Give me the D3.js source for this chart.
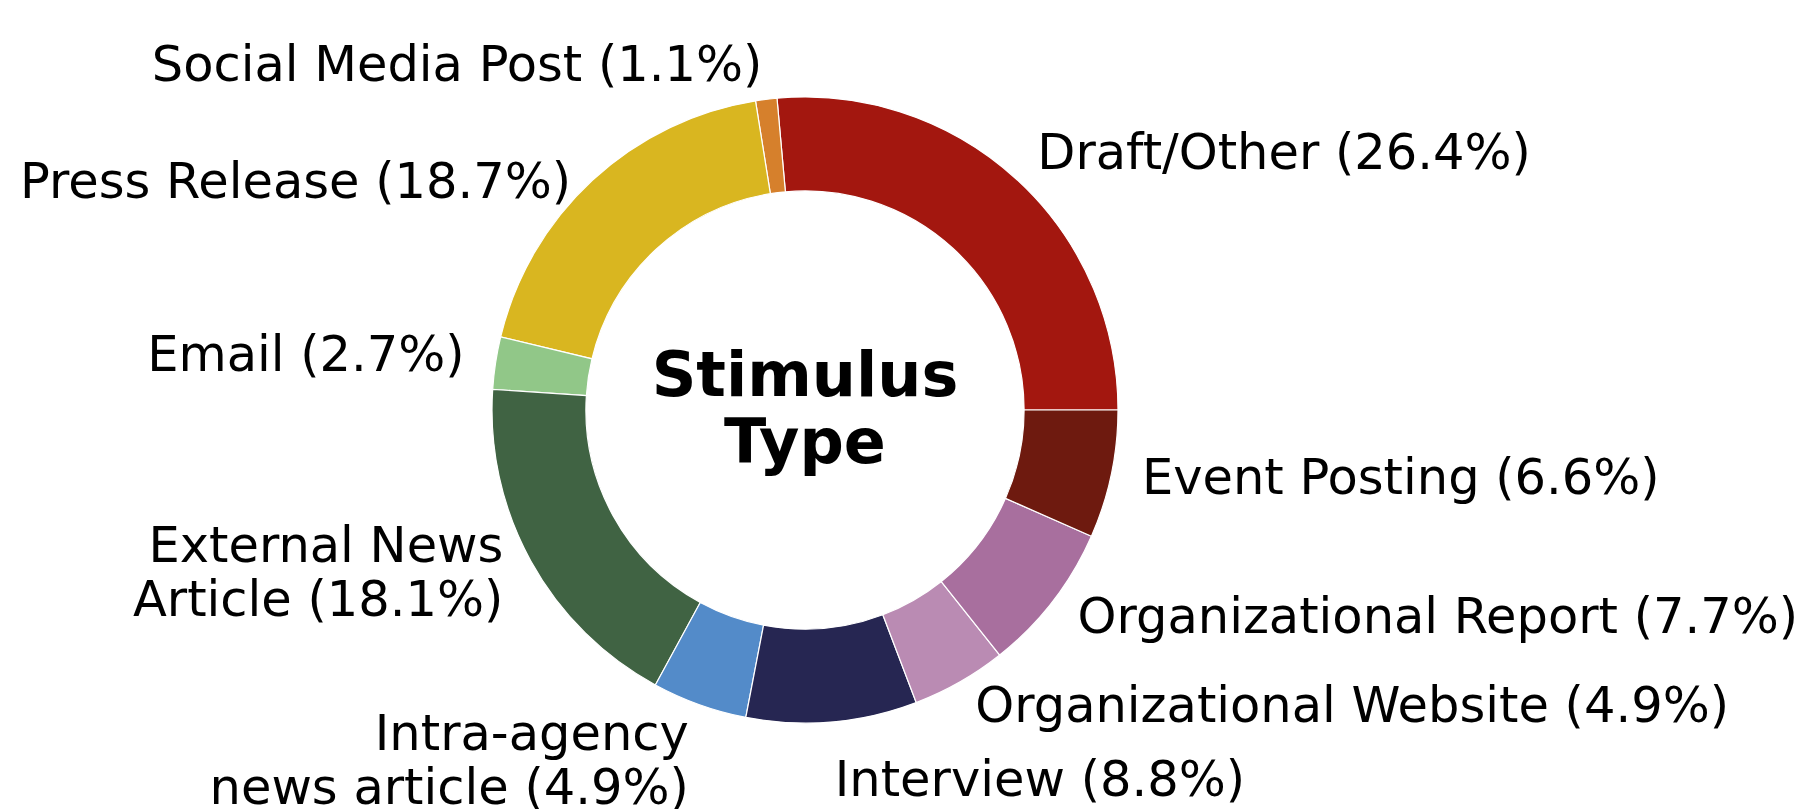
<!DOCTYPE html>
<html>
<head>
<meta charset="utf-8">
<script src="https://cdn.jsdelivr.net/npm/d3@7"></script>
<style>
  body { margin: 0; background: #fff; }
  text { font-family: "DejaVu Sans", sans-serif; fill: #000; }
</style>
</head>
<body>
<svg id="donut" width="1807" height="809"></svg>
<script>
// slices, counter-clockwise from 3 o'clock
var categories = ['Draft/Other', 'Social Media Post', 'Press Release', 'Email',
  'External News\nArticle', 'Intra-agency\nnews article', 'Interview',
  'Organizational Website', 'Organizational Report', 'Event Posting'];
var values = [26.4, 1.1, 18.7, 2.7, 18.1, 4.9, 8.8, 4.9, 7.7, 6.6];
var colors = ['#a3170f', '#d6802c', '#d9b620', '#91c788', '#406343',
  '#538bc9', '#262652', '#ba8bb3', '#a86f9e', '#6e1a0f'];
var centerTitle = ['Stimulus', 'Type'];

var svg = d3.select('#donut'),
    cx = 805, cy = 410,
    outerR = 313,
    innerR = outerR * 0.7,
    labelDist = 1.1;

// a few labels were pushed down to keep them apart
var nudge = { 'Press Release': 28, 'Intra-agency\nnews article': 30, 'Interview': 30 };

var g = svg.append('g')
  .attr('transform', 'translate(' + cx + ',' + cy + ')');

// pie going counter-clockwise from 3 o'clock
var pie = d3.pie()
  .sort(null)
  .startAngle(Math.PI / 2)
  .endAngle(Math.PI / 2 - 2 * Math.PI);

var arc = d3.arc()
  .innerRadius(innerR)
  .outerRadius(outerR);

var z = d3.scaleOrdinal().domain(categories).range(colors);

var slices = pie(values);

g.selectAll('path.slice')
  .data(slices)
  .enter()
  .append('path')
  .attr('class', 'slice')
  .attr('d', arc)
  .style('fill', function(d, i) { return z(categories[i]); })
  .style('stroke', '#fff')
  .style('stroke-width', 1.2);

// labels
var fontSize = 49.5, lineH = 1.1 * fontSize;

g.selectAll('text.label')
  .data(slices)
  .enter()
  .append('text')
  .attr('class', 'label')
  .style('font-size', fontSize + 'px')
  .each(function(d, i) {
    var mid = (d.startAngle + d.endAngle) / 2,
        x = Math.sin(mid) * outerR * labelDist,
        y = -Math.cos(mid) * outerR * labelDist + (nudge[categories[i]] || 0),
        lines = (categories[i] + ' (' + values[i].toFixed(1) + '%)').split('\n'),
        first = y + 0.26 * fontSize - (lines.length - 1) * lineH / 2;
    var t = d3.select(this)
      .attr('text-anchor', x >= 0 ? 'start' : 'end');
    lines.forEach(function(line, j) {
      t.append('tspan')
        .attr('x', x)
        .attr('y', first + j * lineH)
        .text(line);
    });
  });

// center title
var titleSize = 62, titleH = 67;
g.append('text')
  .attr('text-anchor', 'middle')
  .style('font-size', titleSize + 'px')
  .style('font-weight', 'bold')
  .selectAll('tspan')
  .data(centerTitle)
  .enter()
  .append('tspan')
  .attr('x', 0)
  .attr('y', function(d, i) {
    return 0.32 * titleSize - (centerTitle.length - 1) * titleH / 2 + i * titleH;
  })
  .text(function(d) { return d; });
</script>
</body>
</html>
